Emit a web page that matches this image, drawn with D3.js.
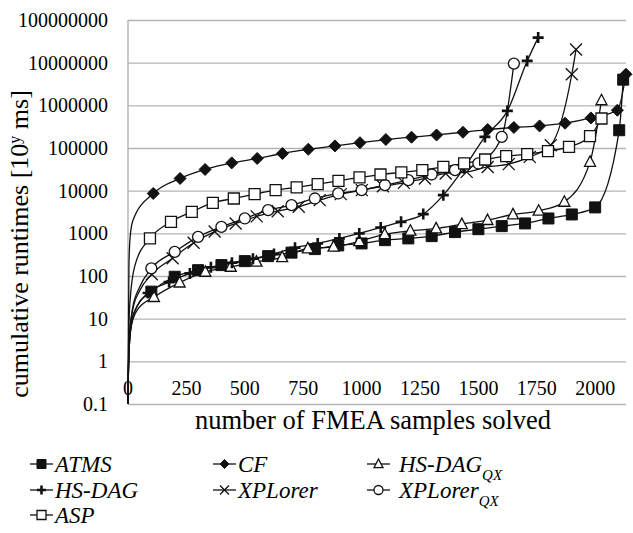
<!DOCTYPE html>
<html>
<head>
<meta charset="utf-8">
<script src="https://cdn.jsdelivr.net/npm/d3@7/dist/d3.min.js"></script>
<style>
body { margin: 0; background: #fff; }
</style>
</head>
<body>
<svg id="chart" width="633" height="533" font-family="Liberation Serif, Times New Roman, serif"></svg>
<script>
"use strict";

//tick values + labels
var yTicks = [0.1, 1, 10, 100, 1000, 10000, 100000, 1000000, 10000000, 100000000];
var yTickLabels = ["0.1", "1", "10", "100", "1000", "10000", "100000", "1000000", "10000000", "100000000"];
var xTicks = [0, 250, 500, 750, 1000, 1250, 1500, 1750, 2000];

//series (samples solved / cumulative runtime)
var atmsHead = [[1, 0.3], [5, 2], [15, 8], [40, 20]];
var atmsSamples = [100, 200, 300, 400, 500, 600, 700, 800, 900, 1000, 1100, 1200, 1300, 1400, 1500, 1600, 1700, 1800, 1900, 2000, 2103, 2120];
var atmsRuntimes = [43, 96, 137, 180, 223, 292, 353, 427, 521, 580, 693, 760, 860, 1070, 1250, 1475, 1706, 2230, 2770, 4050, 261000, 4000000];

var cfHead = [[1, 0.4], [4, 180], [9, 800], [21, 2000]];
var cfSamples = [108, 223, 330, 444, 553, 661, 772, 886, 993, 1104, 1214, 1321, 1434, 1540, 1652, 1762, 1871, 1982, 2095, 2132];
var cfRuntimes = [8600, 19300, 31400, 44800, 56800, 74300, 93700, 112000, 133000, 158000, 179000, 202000, 234000, 271000, 303000, 329000, 381000, 507000, 768000, 5350000];

var hsdagQxHead = [[1, 0.3], [5, 2], [15, 7], [40, 16]];
var hsdagQxSamples = [111, 221, 331, 440, 550, 660, 770, 880, 990, 1099, 1209, 1319, 1429, 1539, 1648, 1758, 1868, 1978, 2027];
var hsdagQxRuntimes = [32, 70, 125, 164, 215, 275, 443, 483, 650, 950, 1145, 1300, 1640, 2040, 2770, 3370, 5470, 47200, 1310000];

var hsdagHead = [[1, 0.3], [5, 2], [15, 8], [40, 20]];
var hsdagSamples = [86, 176, 265, 355, 445, 535, 625, 715, 812, 905, 990, 1082, 1169, 1264, 1350, 1438, 1528, 1624, 1709, 1756];
var hsdagRuntimes = [40, 72, 115, 160, 205, 255, 330, 460, 580, 760, 995, 1375, 1860, 2820, 7850, 33600, 182000, 740000, 11000000, 38700000];

var xplHead = [[1, 0.3], [5, 3], [20, 16], [50, 45]];
var xplSamples = [102, 191, 281, 371, 461, 551, 641, 731, 821, 911, 1001, 1091, 1181, 1271, 1360, 1450, 1540, 1630, 1720, 1810, 1900, 1918];
var xplRuntimes = [110, 260, 600, 1100, 1700, 2500, 3300, 4200, 6000, 8280, 10300, 12700, 15200, 19300, 25300, 27600, 36000, 41800, 62000, 116000, 5350000, 20300000];

var xplQxHead = [[1, 0.3], [5, 3], [20, 18], [50, 55]];
var xplQxSamples = [100, 200, 300, 400, 500, 600, 700, 800, 900, 1000, 1100, 1200, 1300, 1400, 1500, 1600, 1652];
var xplQxRuntimes = [151, 369, 828, 1420, 2230, 3490, 4570, 6560, 8600, 10300, 13500, 17600, 23900, 30200, 43400, 182000, 9500000];

var aspHead = [[1, 0.3], [3, 5], [9, 27], [30, 180]];
var aspSamples = [94, 184, 273, 363, 453, 542, 632, 722, 812, 901, 991, 1081, 1170, 1260, 1350, 1439, 1529, 1619, 1709, 1798, 1888, 1978, 2027];
var aspRuntimes = [760, 1860, 3190, 5170, 6560, 8280, 10300, 12000, 14200, 17000, 20400, 23900, 26700, 30200, 36000, 43400, 53800, 64300, 71600, 84100, 106000, 189000, 491000];

//legend order (Excel fills the legend row by row)
var seriesNames = ["ATMS", "CF", "HS-DAG", "HS-DAG", "XPLorer", "XPLorer", "ASP"];
var seriesSubs = ["", "", "QX", "", "", "QX", ""];
var seriesMarkers = ["square", "diamond", "triangle", "plus", "cross", "circle", "openSquare"];

(function(){

var series = [
  {head: atmsHead, xs: atmsSamples, ys: atmsRuntimes},
  {head: cfHead, xs: cfSamples, ys: cfRuntimes},
  {head: hsdagQxHead, xs: hsdagQxSamples, ys: hsdagQxRuntimes},
  {head: hsdagHead, xs: hsdagSamples, ys: hsdagRuntimes},
  {head: xplHead, xs: xplSamples, ys: xplRuntimes},
  {head: xplQxHead, xs: xplQxSamples, ys: xplQxRuntimes},
  {head: aspHead, xs: aspSamples, ys: aspRuntimes}
];

var font = '"Liberation Serif", "Times New Roman", serif';
var svg = d3.select('#chart');
var left = 128, right = 626, top = 20, bottom = 404;

var x = d3.scaleLinear().domain([0, 2132]).range([left, right]);
var y = d3.scaleLog().domain([0.1, 1e8]).range([bottom, top]);

var gridColor = '#b3b3b3';

//gridlines
svg.append('g')
  .attr('transform', 'translate(' + left + ',0)')
  .call(d3.axisLeft(y).tickValues(yTicks).tickSize(-(right - left)).tickFormat(''))
  .call(function(g) {
    g.select('.domain').remove();
    g.selectAll('line').attr('stroke', gridColor).attr('stroke-width', 1.4);
  });

//left axis line
svg.append('line')
  .attr('x1', left).attr('x2', left)
  .attr('y1', top).attr('y2', bottom)
  .attr('stroke', gridColor).attr('stroke-width', 1.4);

//y tick labels
svg.append('g')
  .selectAll('text')
  .data(yTicks)
  .enter().append('text')
  .attr('x', 108)
  .attr('y', function(t) { return y(t); })
  .attr('dy', '0.35em')
  .attr('text-anchor', 'end')
  .style('font-family', font)
  .style('font-size', '20px')
  .text(function(t, i) { return yTickLabels[i]; });

//x tick labels, just under the "1" line where Excel crosses the axis
svg.append('g')
  .selectAll('text')
  .data(xTicks)
  .enter().append('text')
  .attr('x', function(t) { return x(t); })
  .attr('y', y(1) + 27)
  .attr('dy', '0.35em')
  .attr('text-anchor', 'middle')
  .style('font-family', font)
  .style('font-size', '20px')
  .text(function(t) { return t; });

//axis titles
svg.append('text')
  .attr('x', 373)
  .attr('y', 429)
  .attr('text-anchor', 'middle')
  .style('font-family', font)
  .style('font-size', '26.5px')
  .text('number of FMEA samples solved');

var yTitle = svg.append('text')
  .attr('transform', 'translate(28,244) rotate(-90)')
  .attr('text-anchor', 'middle')
  .style('font-family', font)
  .style('font-size', '26px');
yTitle.append('tspan').text('cumulative runtimes [10');
yTitle.append('tspan').attr('baseline-shift', 'super').style('font-size', '16px').text('y');
yTitle.append('tspan').text(' ms]');

//marker shapes
function markerPath(kind, s) {
  switch (kind) {
    case 'square':
    case 'openSquare':
      return 'M' + (-s) + ',' + (-s) + 'H' + s + 'V' + s + 'H' + (-s) + 'Z';
    case 'diamond':
      return 'M0,' + (-s) + 'L' + s + ',0L0,' + s + 'L' + (-s) + ',0Z';
    case 'triangle':
      return 'M0,' + (-s * 1.1) + 'L' + s + ',' + (s * 0.8) + 'L' + (-s) + ',' + (s * 0.8) + 'Z';
    case 'plus':
      return 'M' + (-s) + ',0H' + s + 'M0,' + (-s) + 'V' + s;
    case 'cross':
      return 'M' + (-s) + ',' + (-s) + 'L' + s + ',' + s + 'M' + (-s) + ',' + s + 'L' + s + ',' + (-s);
    case 'circle':
      return 'M' + s + ',0A' + s + ',' + s + ' 0 1,1 ' + (-s) + ',0A' + s + ',' + s + ' 0 1,1 ' + s + ',0Z';
  }
}

function styleMarker(sel, kind) {
  switch (kind) {
    case 'square':
    case 'diamond':
      sel.attr('fill', '#111').attr('stroke', '#111').attr('stroke-width', 1);
      break;
    case 'plus':
      sel.attr('fill', 'none').attr('stroke', '#111').attr('stroke-width', 2.6);
      break;
    case 'cross':
      sel.attr('fill', 'none').attr('stroke', '#111').attr('stroke-width', 1.3);
      break;
    default:
      sel.attr('fill', '#fff').attr('stroke', '#111').attr('stroke-width', 1.3);
  }
}

var markerSize = {square: 5.5, openSquare: 5.5, diamond: 6, triangle: 5.5, plus: 5.5, cross: 6, circle: 5.5};

var line = d3.line()
  .x(function(d) { return x(d[0]); })
  .y(function(d) { return y(d[1]); })
  .curve(d3.curveMonotoneX);

var plot = svg.append('g');

series.forEach(function(s) {
  var pts = s.xs.map(function(v, j) { return [v, s.ys[j]]; });
  var all = [[0, 0.1]].concat(s.head, pts);
  plot.append('path')
    .attr('d', line(all))
    .attr('fill', 'none')
    .attr('stroke', '#111')
    .attr('stroke-width', 1.3);
});

series.forEach(function(s, i) {
  var kind = seriesMarkers[i];
  var pts = s.xs.map(function(v, j) { return [v, s.ys[j]]; });
  plot.append('g').selectAll('path')
    .data(pts)
    .enter().append('path')
    .attr('transform', function(d) { return 'translate(' + x(d[0]) + ',' + y(d[1]) + ')'; })
    .attr('d', markerPath(kind, markerSize[kind]))
    .call(styleMarker, kind);
});

//legend
var legendCols = [30, 213, 367];
var legendRows = [464, 490, 515];
var legend = svg.append('g');

seriesNames.forEach(function(name, i) {
  var lx = legendCols[i % 3];
  var ly = legendRows[Math.floor(i / 3)];
  var kind = seriesMarkers[i];
  var g = legend.append('g').attr('transform', 'translate(' + lx + ',' + ly + ')');
  g.append('line')
    .attr('x1', 0).attr('x2', 23)
    .attr('stroke', '#111').attr('stroke-width', 1.3);
  g.append('path')
    .attr('transform', 'translate(11.5,0)')
    .attr('d', markerPath(kind, 4.5))
    .call(styleMarker, kind);
  var t = g.append('text')
    .attr('x', i % 3 === 2 ? 32 : 25)
    .attr('dy', '0.35em')
    .style('font-family', font)
    .style('font-size', '23px')
    .style('font-style', 'italic');
  t.append('tspan').text(name);
  if (seriesSubs[i]) {
    t.append('tspan').attr('baseline-shift', 'sub').style('font-size', '15px').text(seriesSubs[i]);
  }
});

})();
</script>
</body>
</html>
